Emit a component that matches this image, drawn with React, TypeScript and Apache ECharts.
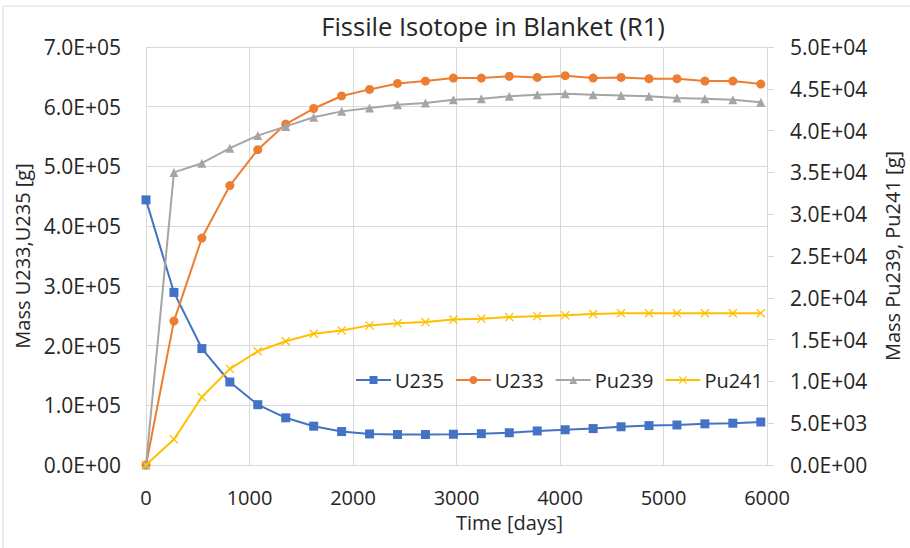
import React, { useEffect, useRef } from "react";
import * as echarts from "echarts";

const days = [0, 270, 540, 810, 1080, 1350, 1620, 1890, 2160, 2430, 2700, 2970, 3240, 3510, 3780, 4050, 4320, 4590, 4860, 5130, 5400, 5670, 5940];
const u235 = [4.44e5, 2.89e5, 1.95e5, 1.39e5, 1.01e5, 0.79e5, 0.65e5, 0.56e5, 0.52e5, 0.51e5, 0.51e5, 0.515e5, 0.525e5, 0.54e5, 0.57e5, 0.59e5, 0.61e5, 0.64e5, 0.66e5, 0.67e5, 0.69e5, 0.70e5, 0.72e5];
const u233 = [0, 2.41e5, 3.80e5, 4.68e5, 5.28e5, 5.71e5, 5.97e5, 6.18e5, 6.29e5, 6.39e5, 6.43e5, 6.48e5, 6.48e5, 6.51e5, 6.49e5, 6.52e5, 6.48e5, 6.49e5, 6.47e5, 6.47e5, 6.43e5, 6.43e5, 6.38e5];
const pu239 = [0, 35.0e3, 36.1e3, 37.9e3, 39.4e3, 40.5e3, 41.6e3, 42.3e3, 42.7e3, 43.1e3, 43.3e3, 43.7e3, 43.8e3, 44.1e3, 44.3e3, 44.4e3, 44.3e3, 44.2e3, 44.1e3, 43.9e3, 43.8e3, 43.7e3, 43.4e3];
const pu241 = [0, 3.07e3, 8.13e3, 11.5e3, 13.6e3, 14.8e3, 15.7e3, 16.1e3, 16.7e3, 16.95e3, 17.1e3, 17.4e3, 17.5e3, 17.7e3, 17.8e3, 17.9e3, 18.06e3, 18.15e3, 18.15e3, 18.15e3, 18.15e3, 18.15e3, 18.15e3];

const seriesNames = ["U235", "U233", "Pu239", "Pu241"];
const colors = ["#4472C4", "#ED7D31", "#A5A5A5", "#FFC000"];
const titleText = "Fissile Isotope in Blanket (R1)";
const xName = "Time [days]";
const yLeftName = "Mass U233,U235 [g]";
const yRightName = "Mass Pu239, Pu241 [g]";

const FONT = '"Open Sans", "Noto Sans", sans-serif';
const TEXT = "#262626";
const GRID = "#d9d9d9";
const CROSS = "path://M0,1L1,0L5,4L9,0L10,1L6,5L10,9L9,10L5,6L1,10L0,9L4,5Z";

const sci = (v: number) => {
  if (v === 0) return "0.0E+00";
  const e = Math.floor(Math.log10(Math.abs(v)) + 1e-9);
  const m = v / Math.pow(10, e);
  return m.toFixed(1) + "E+" + String(e).padStart(2, "0");
};

const pairs = (ys: number[]) => days.map((d, i) => [d, ys[i]]);

export default function App() {
  const ref = useRef<HTMLDivElement>(null);
  useEffect(() => {
    document.body.style.margin = "0";
    const chart = echarts.init(ref.current!, null, { renderer: "svg" });
    const symbols = ["rect", "circle", "triangle", CROSS];
    const sizes = [9, 9, 9, 9];
    const datas = [u235, u233, pu239, pu241];
    chart.setOption({
      animation: false,
      backgroundColor: "#ffffff",
      textStyle: { fontFamily: FONT, color: TEXT },
      graphic: [
        {
          type: "rect",
          shape: { x: 3, y: 6, width: 920, height: 560 },
          style: { fill: "none", stroke: GRID, lineWidth: 1 },
          silent: true,
        },
        {
          type: "text",
          x: 493,
          y: 26,
          style: {
            text: titleText,
            fontSize: 25.5,
            fontFamily: FONT,
            fill: TEXT,
            align: "center",
            verticalAlign: "middle",
          },
        },
      ],
      legend: {
        left: 350,
        top: 365,
        itemWidth: 35,
        itemHeight: 10,
        itemGap: 11,
        data: seriesNames,
        textStyle: { fontSize: 20, fontFamily: FONT, color: TEXT, padding: [0, 0, 0, -1] },
      },
      grid: { left: 146, right: 138, top: 47, bottom: 83, containLabel: false },
      xAxis: {
        type: "value",
        min: 0,
        max: 6000,
        interval: 1000,
        name: xName,
        nameLocation: "middle",
        nameGap: 47,
        nameTextStyle: { fontSize: 20, fontFamily: FONT, color: TEXT, padding: [0, 0, 0, 106] },
        axisLine: { show: true, lineStyle: { color: GRID, width: 1 } },
        axisTick: { show: false },
        axisLabel: { fontSize: 20, fontFamily: FONT, color: TEXT, margin: 22, formatter: (v: number) => String(v) },
        splitLine: { show: true, lineStyle: { color: GRID, width: 1 } },
      },
      yAxis: [
        {
          type: "value",
          min: 0,
          max: 7e5,
          interval: 1e5,
          position: "left",
          name: yLeftName,
          nameLocation: "middle",
          nameRotate: 90,
          nameGap: 112,
          nameTextStyle: { fontSize: 20, fontFamily: FONT, color: TEXT },
          axisLine: { show: false },
          axisTick: { show: false },
          axisLabel: { fontSize: 21, fontFamily: FONT, color: TEXT, margin: 25, formatter: sci },
          splitLine: { show: true, lineStyle: { color: GRID, width: 1 } },
        },
        {
          type: "value",
          min: 0,
          max: 5e4,
          interval: 5e3,
          position: "right",
          name: yRightName,
          nameLocation: "middle",
          nameRotate: 90,
          nameGap: 115,
          nameTextStyle: { fontSize: 20, fontFamily: FONT, color: TEXT },
          axisLine: { show: true, lineStyle: { color: GRID, width: 1 } },
          axisTick: { show: true, inside: false, length: 7, lineStyle: { color: GRID } },
          axisLabel: { fontSize: 21, fontFamily: FONT, color: TEXT, margin: 23, formatter: sci },
          splitLine: { show: false },
        },
      ],
      series: seriesNames.map((name, i) => ({
        name,
        type: "line",
        yAxisIndex: i < 2 ? 0 : 1,
        data: pairs(datas[i]),
        symbol: symbols[i],
        symbolSize: sizes[i],
        showAllSymbol: true,
        lineStyle: { color: colors[i], width: 2 },
        itemStyle: { color: colors[i], borderColor: colors[i], borderWidth: 0, opacity: 1 },
        emphasis: { disabled: true },
        z: 2 + i,
      })),
    });
    return () => chart.dispose();
  }, []);
  return <div ref={ref} style={{ width: 910, height: 548 }} />;
}
